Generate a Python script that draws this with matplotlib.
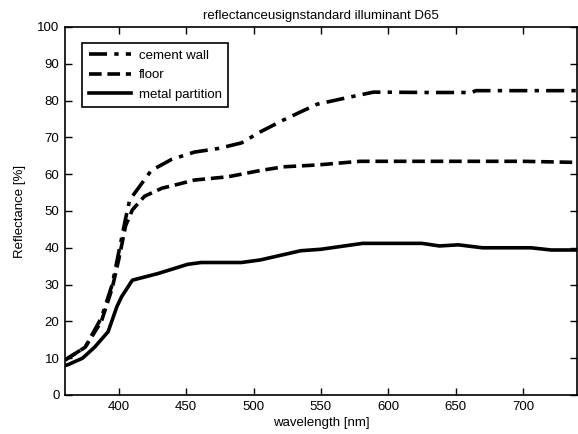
import matplotlib
matplotlib.use("Agg")
import matplotlib.pyplot as plt

plt.rcParams['font.family'] = ['Liberation Sans', 'DejaVu Sans']

title = "reflectanceusignstandard illuminant D65"
xlabel = "wavelength [nm]"
ylabel = "Reflectance [%]"

wl_cement = [360, 375, 387, 395, 400, 405, 408, 412, 424, 439, 456, 474, 491, 505, 522, 547, 572, 589, 631, 662, 665, 740]
cement =    [9.5, 13, 21, 30, 39, 48, 53, 55, 61, 64, 66, 67, 68.5, 71.5, 74.7, 79, 81, 82.3, 82.2, 82.2, 82.7, 82.7]

wl_floor = [360, 375, 387, 395, 400, 405, 410, 419, 432, 441, 456, 481, 505, 522, 547, 579, 700, 740]
floor_ =   [9.5, 13, 20, 29, 37, 46, 50.3, 54, 56.2, 57, 58.4, 59.3, 61, 62, 62.5, 63.5, 63.5, 63.2]

wl_metal = [360, 362, 373, 382, 392, 398.5, 402, 410, 429, 451, 461, 491, 505, 535, 550, 581, 625, 638, 652, 670, 706, 721, 740]
metal =    [8.0, 8.2, 10, 13, 17.2, 24, 26.7, 31.2, 33, 35.5, 36, 36, 36.7, 39.2, 39.6, 41.2, 41.2, 40.5, 40.8, 40, 40, 39.4, 39.4]

labels = ["cement wall", "floor", "metal partition"]
xticks = [400, 450, 500, 550, 600, 650, 700]
yticks = list(range(0, 101, 10))

fig = plt.figure(figsize=(5.78, 4.34), dpi=100)
ax = fig.add_axes([0.1125, 0.0899, 0.8855, 0.8479])

ax.plot(wl_cement, cement, color='black', lw=2.6, dashes=(5, 2, 1.2, 2), label=labels[0])
ax.plot(wl_floor, floor_, color='black', lw=2.6, dashes=(3.5, 1.6), label=labels[1])
ax.plot(wl_metal, metal, color='black', lw=2.6, label=labels[2])

ax.set_xlim(360, 740)
ax.set_ylim(0, 100)
ax.set_xticks(xticks)
ax.set_yticks(yticks)
ax.tick_params(direction='in', top=True, right=True, length=5, width=1, labelsize=9.5, pad=4)
for s in ax.spines.values():
    s.set_linewidth(1.2)

ax.set_title(title, fontsize=9.5, pad=6)
ax.set_xlabel(xlabel, fontsize=9.5, labelpad=3)
ax.set_ylabel(ylabel, fontsize=9.5, labelpad=8)

leg = ax.legend(loc='upper left', bbox_to_anchor=(0.033, 0.957), fontsize=9.5,
                fancybox=False, edgecolor='black', framealpha=1, handlelength=3.2,
                borderpad=0.5, labelspacing=0.55, handletextpad=0.6, borderaxespad=0)
leg.get_frame().set_linewidth(1.2)

fig.savefig("out.png", dpi=100)
